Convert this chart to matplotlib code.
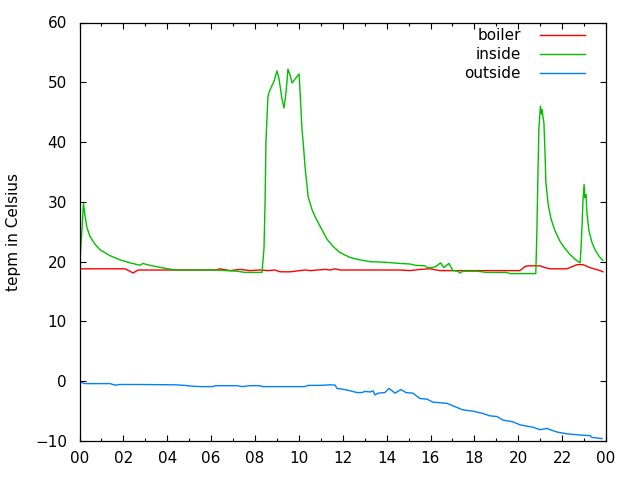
import matplotlib
matplotlib.use("Agg")
import matplotlib.pyplot as plt
from matplotlib.ticker import MultipleLocator, FixedLocator

plt.rcParams['font.family'] = ['DejaVu Sans']

# ---- data (hours of day, degrees Celsius) ----
boiler_t = [0.0, 2.07, 2.30, 2.44, 2.67, 4.35, 6.18, 6.40, 6.86, 7.32, 7.77, 8.23, 8.59, 8.91,
            9.14, 9.60, 10.05, 10.28, 10.51, 11.19, 11.42, 11.65, 11.88, 14.61, 15.07, 15.52,
            15.98, 16.43, 20.08, 20.31, 20.45, 20.99, 21.22, 21.45, 22.22, 22.68, 22.95, 23.27,
            23.73, 23.86]
boiler_v = [18.8, 18.8, 18.4, 18.1, 18.6, 18.6, 18.6, 18.8, 18.5, 18.7, 18.5, 18.6, 18.5, 18.6,
            18.3, 18.3, 18.5, 18.6, 18.5, 18.7, 18.6, 18.8, 18.6, 18.6, 18.5, 18.7,
            18.8, 18.5, 18.5, 19.2, 19.3, 19.3, 19.0, 18.8, 18.8, 19.5, 19.5, 19.0,
            18.5, 18.3]

inside_t = [0.02, 0.11, 0.18, 0.25, 0.34, 0.48, 0.71, 0.93, 1.39, 1.85, 2.30, 2.76, 2.89, 3.08,
            3.44, 3.90, 4.35, 6.18, 7.18, 7.54, 8.32, 8.41, 8.46, 8.50, 8.59, 8.68, 8.87, 9.00,
            9.09, 9.23, 9.32, 9.41, 9.46, 9.50, 9.60, 9.69, 10.01, 10.05, 10.14, 10.19, 10.28,
            10.42, 10.60, 10.74, 10.97, 11.29, 11.60, 11.88, 12.33, 12.79, 13.24, 13.92, 14.61,
            15.07, 15.29, 15.75, 15.84, 16.07, 16.25, 16.46, 16.61, 16.84, 17.02, 17.25, 17.34,
            17.48, 18.12, 18.57, 19.48, 19.62, 20.80, 20.85, 20.90, 20.94, 21.01, 21.06, 21.08,
            21.17, 21.22, 21.26, 21.36, 21.49, 21.67, 21.90, 22.13, 22.36, 22.59, 22.73, 22.82,
            22.86, 22.91, 22.95, 23.00, 23.04, 23.09, 23.13, 23.22, 23.36, 23.50, 23.63, 23.77,
            23.86]
inside_v = [20.2, 25.2, 29.7, 27.7, 25.7, 24.2, 22.9, 22.0, 21.0, 20.3, 19.8, 19.4, 19.7, 19.5,
            19.2, 18.9, 18.6, 18.6, 18.4, 18.2, 18.2, 22.2, 30.2, 40.2, 47.7, 48.7, 50.2, 51.9,
            50.7, 47.2, 45.7, 48.2, 50.2, 52.2, 51.2, 49.9, 51.4, 48.7, 42.2, 40.2, 35.9,
            30.9, 28.7, 27.5, 25.9, 23.7, 22.4, 21.5, 20.7, 20.3, 20.0, 19.9, 19.7,
            19.6, 19.4, 19.3, 19.0, 19.0, 19.2, 19.8, 19.0, 19.7, 18.5, 18.4, 18.1,
            18.4, 18.4, 18.2, 18.2, 18.0, 18.0, 25.2, 35.2, 42.2, 46.0, 44.7, 45.4,
            43.2, 38.2, 33.2, 29.7, 27.2, 25.2, 23.4, 22.2, 21.2, 20.4, 20.0, 19.8,
            22.2, 26.2, 30.2, 32.9, 30.7, 31.2, 28.2, 25.2, 23.2, 22.0, 21.2, 20.5,
            20.2]

outside_t = [0.0, 0.07, 0.25, 1.39, 1.62, 1.85, 2.76, 4.35, 4.81, 5.04, 5.49, 6.09, 6.18, 7.18,
             7.41, 7.77, 8.23, 8.32, 10.28, 10.42, 10.97, 11.42, 11.65, 11.74, 12.10, 12.33,
             12.65, 12.88, 13.01, 13.24, 13.38, 13.47, 13.60, 13.92, 14.11, 14.38, 14.65, 14.88,
             15.20, 15.52, 15.84, 16.11, 16.75, 17.21, 17.48, 17.93, 18.39, 18.71, 19.03, 19.30,
             19.76, 20.08, 20.67, 20.99, 21.31, 21.45, 21.77, 22.22, 22.82, 23.27, 23.36, 23.82]
outside_v = [0.0, -0.2, -0.4, -0.4, -0.65, -0.55, -0.55, -0.6, -0.7, -0.8, -0.9, -0.9, -0.75, -0.75,
             -0.9, -0.75, -0.75, -0.9, -0.9, -0.7, -0.7, -0.6, -0.65, -1.2, -1.4, -1.6,
             -1.9, -1.9, -1.7, -1.8, -1.6, -2.3, -2.0, -1.9, -1.2, -2.0, -1.4, -1.9,
             -2.0, -2.9, -3.0, -3.5, -3.7, -4.4, -4.8, -5.0, -5.4, -5.8, -5.9, -6.5,
             -6.8, -7.3, -7.7, -8.1, -7.9, -8.1, -8.5, -8.8, -9.0, -9.1, -9.4, -9.6]

series_labels = ['boiler', 'inside', 'outside']
series_colors = ['#ff0000', '#00c000', '#0080ff']

x_ticks = [0, 2, 4, 6, 8, 10, 12, 14, 16, 18, 20, 22, 24]
x_tick_labels = ['00', '02', '04', '06', '08', '10', '12', '14', '16', '18', '20', '22', '00']
y_ticks = [-10, 0, 10, 20, 30, 40, 50, 60]

fig = plt.figure(figsize=(6.4, 4.8), dpi=100)
ax = fig.add_axes([79.5 / 640, 39 / 480, 526.5 / 640, 418.5 / 480])

for t, v, c in zip([boiler_t, inside_t, outside_t], [boiler_v, inside_v, outside_v], series_colors):
    ax.plot(t, v, color=c, linewidth=1.0)

ax.set_xlim(0, 24)
ax.set_ylim(-10, 60)
ax.xaxis.set_major_locator(FixedLocator(x_ticks))
ax.set_xticklabels(x_tick_labels)
ax.xaxis.set_minor_locator(MultipleLocator(1))
ax.set_yticks(y_ticks)

ax.tick_params(axis='both', which='both', direction='in', top=True, right=True,
               labelsize=11, colors='black', width=0.8)
ax.tick_params(axis='both', which='major', length=4.5)
ax.tick_params(axis='both', which='minor', length=2.3)
ax.tick_params(axis='x', pad=7)
ax.tick_params(axis='y', pad=9)
for sp in ax.spines.values():
    sp.set_linewidth(0.9)

ax.set_ylabel('tepm in Celsius', fontsize=11, labelpad=10)

# gnuplot-style key: right-aligned labels, sample line to the right
rows_y = [0.9701, 0.9247, 0.8793]
for lab, col, ry in zip(series_labels, series_colors, rows_y):
    ax.text(0.8386, ry, lab, transform=ax.transAxes, ha='right', va='center', fontsize=11)
    ax.plot([0.8747, 0.9601], [ry, ry], transform=ax.transAxes, color=col, linewidth=1.0)

fig.savefig('out.png', dpi=100)
